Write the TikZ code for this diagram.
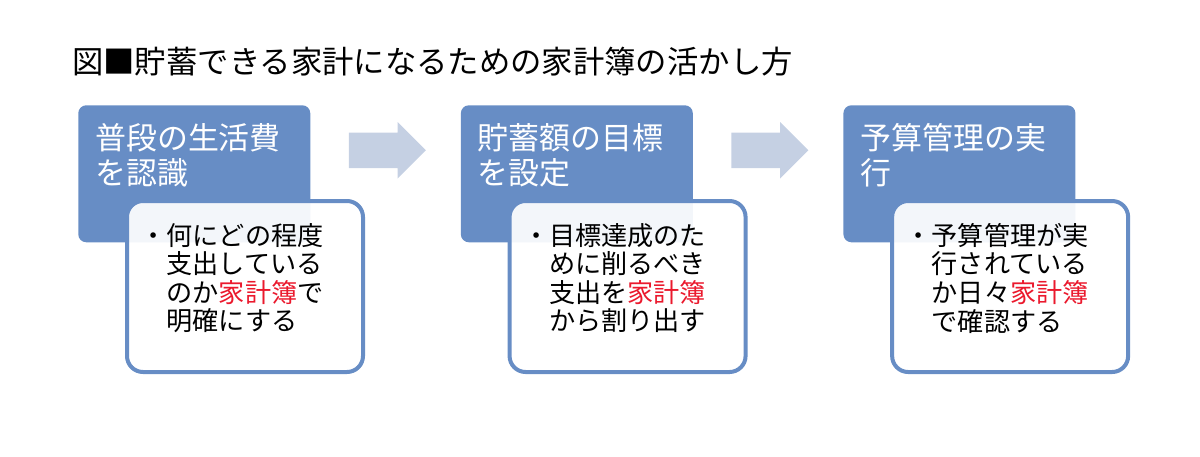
\documentclass[tikz,border=0pt]{standalone}
\usepackage{fontspec}
\setmainfont{Noto Sans CJK JP}
\usetikzlibrary{positioning, shapes.arrows}

\definecolor{aokei}{RGB}{103,141,197}
\definecolor{usuaok}{RGB}{197,208,227}
\definecolor{akak}{RGB}{235,25,45}
\newcommand{\kakeibo}{\textcolor{akak}{家計簿}}

\tikzset{
  titletext/.style={inner sep=0pt,font=\fontsize{22.3pt}{26pt}\selectfont},
  headbox/.style={fill=aokei,rounded corners=0.2cm,minimum width=5.8cm,
                  minimum height=3.425cm,inner sep=0pt},
  headtext/.style={anchor=north west,inner sep=0pt,text=white,align=left,
                   font=\fontsize{22pt}{24.9pt}\selectfont},
  notebox/.style={anchor=north west,draw=aokei,line width=0.1cm,fill=white,
                  fill opacity=0.92,rounded corners=0.4cm,minimum width=5.9cm,
                  minimum height=4.275cm,inner sep=0pt},
  bodytext/.style={anchor=north west,inner sep=0pt,align=left,
                   font=\fontsize{18.6pt}{20.3pt}\selectfont},
  blockarrow/.style={single arrow,fill=usuaok,inner sep=0pt,minimum height=1.925cm,
                     single arrow head extend=0.2625cm,anchor=tail}
}

\begin{document}
\begin{tikzpicture}
  \useasboundingbox (0,0) rectangle (30,-11.4);
  \node[titletext,anchor=west] (ttl) at (1.8,-1.55) {図■貯蓄できる家計になるための家計簿の活かし方};

  % steps
  \node[headbox,anchor=north west] (b1) at (1.95,-2.625) {};
  \node[headbox,right=3.75cm of b1] (b2) {};
  \node[headbox,right=3.75cm of b2] (b3) {};
  \node[headtext] (h1) at ([shift={(0.425,-0.45)}]b1.north west) {普段の生活費\\を認識};
  \node[headtext] (h2) at ([shift={(0.425,-0.45)}]b2.north west) {貯蓄額の目標\\を設定};
  \node[headtext] (h3) at ([shift={(0.425,-0.45)}]b3.north west) {予算管理の実\\行};

  % detail boxes
  \node[notebox] (w1) at ([shift={(1.175,-2.35)}]b1.north west) {};
  \node[notebox] (w2) at ([shift={(1.175,-2.35)}]b2.north west) {};
  \node[notebox] (w3) at ([shift={(1.175,-2.35)}]b3.north west) {};
  \node[bodytext] (n1) at ([shift={(0.38,-0.6)}]w1.north west)
    {・何にどの程度\\\hspace*{1em}支出している\\\hspace*{1em}のか\kakeibo{}で\\\hspace*{1em}明確にする};
  \node[bodytext] (n2) at ([shift={(0.38,-0.6)}]w2.north west)
    {・目標達成のた\\\hspace*{1em}めに削るべき\\\hspace*{1em}支出を\kakeibo\\\hspace*{1em}から割り出す};
  \node[bodytext] (n3) at ([shift={(0.38,-0.6)}]w3.north west)
    {・予算管理が実\\\hspace*{1em}行されている\\\hspace*{1em}か日々\kakeibo\\\hspace*{1em}で確認する};

  % arrows between steps
  \node[blockarrow] (a1) at ([shift={(0.95,0.5875)}]b1.east) {\rule{0pt}{0.875cm}};
  \node[blockarrow] (a2) at ([shift={(0.95,0.5875)}]b2.east) {\rule{0pt}{0.875cm}};
\end{tikzpicture}
\end{document}
